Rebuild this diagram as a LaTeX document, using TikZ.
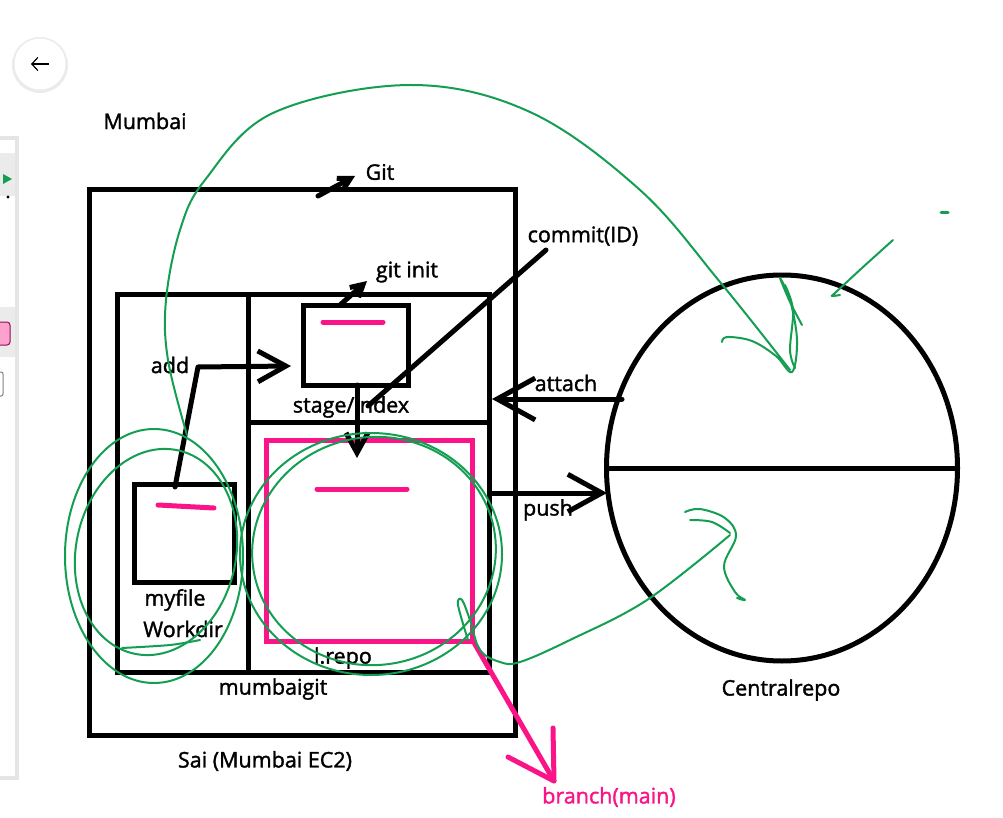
\documentclass[tikz,border=0pt]{standalone}
\usepackage{fontspec}
\setmainfont{Open Sans}[FakeBold=1.6]
\usetikzlibrary{arrows.meta,shapes.geometric,calc}
\definecolor{gpink}{RGB}{250,20,135}
\definecolor{ggreen}{RGB}{20,158,82}
\begin{document}
\begin{tikzpicture}[x=1pt,y=-1pt,
  box/.style={draw,line width=5pt,rectangle,inner sep=0pt},
  lbl/.style={font=\fontsize{21.5}{25}\selectfont,inner sep=0pt},
  blk/.style={line width=5pt,line cap=round,line join=round},
  pk/.style={gpink,line width=5pt,line cap=round,line join=round},
  gr/.style={ggreen,line width=2pt,line cap=round,line join=round},
  barb/.style={-{Straight Barb[length=#1,width=1.1*#1]}}]
\useasboundingbox (0,0) rectangle (1003,818);
\fill[white] (0,0) rectangle (1003,818);
% ---- screen UI remnants ----
\fill[black!10] (0,136) rectangle (19,780);
\fill[white] (0,140) rectangle (15,776);
\fill[black!8] (0,153) rectangle (15,196);
\fill[black!8] (0,307) rectangle (15,357);
\fill[ggreen] (3,174) -- (12,179) -- (3,184) -- cycle;
\fill[black] (8,197) circle (1.6);
\draw[gpink!60!black,line width=1pt,fill=gpink!40,rounded corners=3pt] (-5,322) rectangle (10,345);
\draw[black!50,line width=1pt,rounded corners=2pt] (-5,372) rectangle (3,396);
\node[circle,fill=black!8,minimum size=56,inner sep=0] (backsh) at (40,65) {};
\node[circle,fill=white,minimum size=51,inner sep=0] (back) at (40,64) {};
\coordinate (bkA) at (49,64);
\coordinate (bkB) at (31,64);
\draw[line width=1.2pt,-{Straight Barb[length=6pt,width=13pt]}] (bkA) -- (bkB);
% ---- boxes ----
\node[box,minimum width=426,minimum height=545] (sai) at (302,462.5) {};
\node[box,minimum width=372,minimum height=378] (mg) at (303,483) {};
\coordinate (d1) at (248,294);
\coordinate (d2) at (248,672);
\coordinate (h1) at (248,422);
\coordinate (h2) at (489,422);
\draw[line width=5pt] (d1) -- (d2);
\draw[line width=5pt] (h1) -- (h2);
\node[box,minimum width=105,minimum height=80] (stage) at (355.5,345) {};
\node[box,minimum width=100,minimum height=98] (wd) at (184,533) {};
\node[draw=gpink,line width=5pt,rectangle,inner sep=0,minimum width=206,minimum height=201] (repo) at (369,540.5) {};
\node[draw,ellipse,line width=5pt,inner sep=0,minimum width=351,minimum height=386] (central) at (782,468) {};
\draw[line width=5pt] (central.west) -- (central.east);
% pink marks
\coordinate (p1a) at (323,322); \coordinate (p1b) at (383,322);
\coordinate (p2a) at (158,505); \coordinate (p2b) at (214,508);
\coordinate (p3a) at (317,489); \coordinate (p3b) at (407,489);
\draw[pk] (p1a) -- (p1b);
\draw[pk] (p2a) -- (p2b);
\draw[pk] (p3a) -- (p3b);
% ---- labels ----
\node[lbl] (mumbai) at (145,121) {Mumbai};
\node[lbl] (git) at (380,172) {Git};
\node[lbl] (commit) at (583,236) {commit(ID)};
\node[lbl] (gitinit) at (407,272) {git init};
\node[lbl] (add) at (170,365) {add};
\node[lbl] (attach) at (566,383) {attach};
\node[lbl] (stagel) at (351,407) {stage/index};
\node[lbl] (push) at (548,510) {push};
\node[lbl] (myfile) at (175,600) {myfile};
\node[lbl] (workdir) at (183,629) {Workdir};
\node[lbl] (lrepo) at (343,658) {l.repo};
\node[lbl] (mbg) at (273,689) {mumbaigit};
\node[lbl] (sail) at (265,761) {Sai (Mumbai EC2)};
\node[lbl] (centl) at (781,690) {Centralrepo};
\node[lbl,text=gpink] (branch) at (609,797) {branch(main)};
% ---- black connectors ----
\coordinate (gA) at (318,196); \coordinate (gB) at (355,176);
\draw[blk,barb=12pt] (gA) -- (gB);
\coordinate (iA) at (340,305); \coordinate (iB) at (367,281);
\draw[blk,barb=12pt] (iA) -- (iB);
\coordinate (aA) at (175,487); \coordinate (aM) at (198,367); \coordinate (aB) at (291,366);
\draw[blk,barb=28pt] (aA) -- (aM) -- (aB);
\coordinate (sA) at (357,385); \coordinate (sB) at (357,458);
\draw[blk,barb=20pt] (sA) -- (sB);
\coordinate (cA) at (546,250); \coordinate (cB) at (368,406);
\draw[blk] (cA) -- (cB);
\coordinate (atA) at (622,399); \coordinate (atB) at (492,399);
\draw[blk,barb=38pt] (atA) -- (atB);
\coordinate (puA) at (490,493); \coordinate (puB) at (607,493);
\draw[blk,barb=34pt] (puA) -- (puB);
\coordinate (brB) at (554,781);
\coordinate (brL) at (508,757);
\coordinate (brR) at (553,728);
\draw[pk] (repo.south east) -- (brB);
\draw[pk] (brL) -- (brB) -- (brR);
% ---- green strokes ----
\draw[gr] plot[smooth,tension=0.6] coordinates {(187,435) (168,360) (166,300) (180,230) (205,180) (273,113) (410,85) (530,112) (640,190) (720,282) (790,370)};
\draw[gr] plot[smooth,tension=0.6] coordinates {(722,342) (727,337) (752,341) (776,356) (792,372) (797,340) (790,300) (780,278) (790,302) (802,325)};
\draw[gr] plot[smooth,tension=0.6] coordinates {(785,285) (793,310) (790,350) (795,368)};
\draw[gr] plot[smooth] coordinates {(893,240) (862,268) (835,293) (832,296) (840,295)};
\draw[gr,line width=3pt] (941,213) -- (948,213);
\draw[gr] (154,556) ellipse [x radius=89,y radius=127];
\draw[gr,rotate around={-12:(156,552)}] (156,552) ellipse [x radius=80,y radius=104];
\draw[gr] plot[smooth] coordinates {(122,648) (170,645) (200,640)};
\draw[gr] (371,554) ellipse [x radius=131,y radius=121];
\draw[gr,rotate around={8:(374,551)}] (374,551) ellipse [x radius=122,y radius=114];
\draw[gr] plot[smooth,tension=0.6] coordinates {(468,640) (458,605) (462,600) (470,620) (480,650) (500,662) (520,662) (570,640) (647,600) (730,535)};
\draw[gr] plot[smooth,tension=0.6] coordinates {(685,512) (700,509) (725,518) (736,536) (724,566) (735,592) (745,600) (737,598)};
\draw[gr] plot[smooth,tension=0.6] coordinates {(690,520) (712,522) (730,533)};
\end{tikzpicture}
\end{document}
